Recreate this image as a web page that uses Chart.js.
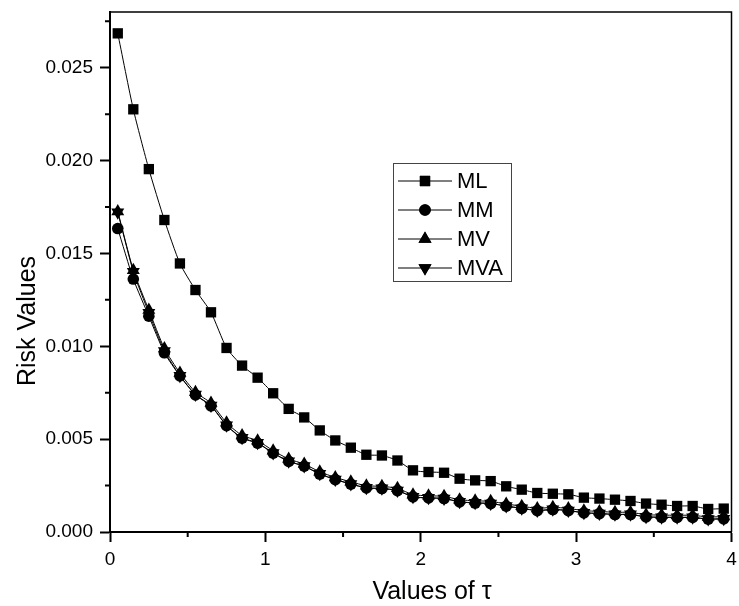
<!DOCTYPE html>
<html>
<head>
<meta charset="utf-8">
<script src="https://cdn.jsdelivr.net/npm/chart.js@4/dist/chart.umd.min.js"></script>
<style>
  html, body { margin: 0; padding: 0; background: #fff; }
  #wrap { width: 739px; height: 606px; }
</style>
</head>
<body>
<div id="wrap"><canvas id="riskChart" width="739" height="606"></canvas></div>
<script>
const taus = [0.05, 0.15, 0.25, 0.35, 0.45, 0.55, 0.65, 0.75, 0.85, 0.95,
  1.05, 1.15, 1.25, 1.35, 1.45, 1.55, 1.65, 1.75, 1.85, 1.95,
  2.05, 2.15, 2.25, 2.35, 2.45, 2.55, 2.65, 2.75, 2.85, 2.95,
  3.05, 3.15, 3.25, 3.35, 3.45, 3.55, 3.65, 3.75, 3.85, 3.95]

const ml = [0.02685, 0.02276, 0.01954, 0.01680, 0.01446, 0.01303, 0.01183, 0.00991, 0.00896, 0.00831,
  0.00747, 0.00663, 0.00617, 0.00547, 0.00493, 0.00454, 0.00416, 0.00412, 0.00385, 0.00332,
  0.00323, 0.00319, 0.00287, 0.00278, 0.00274, 0.00246, 0.00228, 0.00210, 0.00206, 0.00203,
  0.00185, 0.00180, 0.00174, 0.00167, 0.00153, 0.00147, 0.00140, 0.00140, 0.00124, 0.00126]

const mm = [0.01634, 0.01362, 0.01162, 0.00965, 0.00840, 0.00738, 0.00679, 0.00573, 0.00505, 0.00478,
  0.00424, 0.00380, 0.00354, 0.00312, 0.00282, 0.00258, 0.00237, 0.00234, 0.00223, 0.00189,
  0.00183, 0.00180, 0.00162, 0.00156, 0.00153, 0.00139, 0.00127, 0.00115, 0.00121, 0.00115,
  0.00103, 0.00099, 0.00094, 0.00094, 0.00081, 0.00079, 0.00078, 0.00078, 0.00069, 0.00071]

const mv = [0.01726, 0.01410, 0.01195, 0.00988, 0.00856, 0.00753, 0.00694, 0.00588, 0.00520, 0.00492,
  0.00438, 0.00393, 0.00366, 0.00324, 0.00294, 0.00270, 0.00249, 0.00246, 0.00235, 0.00201,
  0.00195, 0.00192, 0.00174, 0.00168, 0.00165, 0.00151, 0.00139, 0.00127, 0.00133, 0.00127,
  0.00115, 0.00111, 0.00106, 0.00106, 0.00093, 0.00091, 0.00090, 0.00090, 0.00081, 0.00083]

const mva = [0.01722, 0.01402, 0.01180, 0.00975, 0.00842, 0.00740, 0.00681, 0.00575, 0.00507, 0.00480,
  0.00426, 0.00381, 0.00355, 0.00313, 0.00283, 0.00259, 0.00238, 0.00235, 0.00224, 0.00190,
  0.00184, 0.00181, 0.00163, 0.00157, 0.00154, 0.00140, 0.00128, 0.00116, 0.00122, 0.00116,
  0.00104, 0.00100, 0.00095, 0.00095, 0.00082, 0.00080, 0.00079, 0.00079, 0.00070, 0.00072]

const xTicks = [0, 1, 2, 3, 4]
const yTicks = [0.000, 0.005, 0.010, 0.015, 0.020, 0.025]
const xMinor = [0.5, 1.5, 2.5, 3.5]
const yMinor = [0.0025, 0.0075, 0.0125, 0.0175, 0.0225, 0.0275]

const FONT = 'Arial, "Liberation Sans", Helvetica, sans-serif'

function series(label, values, style, radius, rotation) {
  return {
    label: label,
    data: taus.map((t, i) => ({ x: t, y: values[i] })),
    borderColor: '#000',
    borderWidth: 1,
    backgroundColor: '#000',
    pointStyle: style,
    pointRadius: radius,
    pointRotation: rotation || 0,
    pointBorderWidth: 0,
    pointBackgroundColor: '#000',
    tension: 0.2,
    clip: false
  }
}

const datasets = [
  series('ML', ml, 'rect', 7.3),
  series('MM', mm, 'circle', 5.8),
  series('MV', mv, 'triangle', 7.5),
  series('MVA', mva, 'triangle', 7.5, 180)
]

// frame, minor ticks, axis titles and the boxed legend
const decor = {
  id: 'decor',
  afterDraw(chart) {
    const ctx = chart.ctx
    const a = chart.chartArea
    const xs = chart.scales.x
    const ys = chart.scales.y
    ctx.save()
    ctx.strokeStyle = '#000'
    ctx.lineWidth = 1.5
    ctx.beginPath()
    ctx.moveTo(a.left, a.top)
    ctx.lineTo(a.right, a.top)
    ctx.lineTo(a.right, a.bottom)
    ctx.stroke()

    ctx.lineWidth = 2
    ctx.beginPath()
    xMinor.forEach(v => {
      const px = xs.getPixelForValue(v)
      ctx.moveTo(px, a.bottom)
      ctx.lineTo(px, a.bottom + 5)
    })
    yMinor.forEach(v => {
      const py = ys.getPixelForValue(v)
      ctx.moveTo(a.left, py)
      ctx.lineTo(a.left - 5, py)
    })
    ctx.stroke()

    ctx.fillStyle = '#000'
    ctx.font = '25px ' + FONT
    ctx.textAlign = 'center'
    ctx.textBaseline = 'middle'
    ctx.fillText('Values of \u03c4', 432, 592)
    ctx.save()
    ctx.translate(28, 321)
    ctx.rotate(-Math.PI / 2)
    ctx.fillText('Risk Values', 0, 0)
    ctx.restore()

    // legend box
    const box = { left: 393, top: 163, width: 118, height: 118 }
    ctx.lineWidth = 1
    ctx.strokeStyle = '#444'
    ctx.strokeRect(box.left + 0.5, box.top + 0.5, box.width, box.height)
    const rows = [181, 210, 239, 268]
    ctx.font = '22px ' + FONT
    ctx.textAlign = 'left'
    chart.data.datasets.forEach((ds, i) => {
      const y = rows[i]
      ctx.strokeStyle = '#000'
      ctx.lineWidth = 1
      ctx.beginPath()
      ctx.moveTo(398, y)
      ctx.lineTo(452, y)
      ctx.stroke()
      Chart.helpers.drawPoint(ctx, {
        pointStyle: ds.pointStyle,
        radius: ds.pointRadius,
        rotation: ds.pointRotation,
        borderWidth: 0
      }, 425, y)
      ctx.fillStyle = '#000'
      ctx.fill()
      ctx.fillText(ds.label, 457, y + 1)
    })
    ctx.restore()
  }
}

new Chart(document.getElementById('riskChart'), {
  type: 'line',
  data: { datasets: datasets },
  plugins: [decor],
  options: {
    responsive: false,
    animation: false,
    layout: { padding: { top: 12, right: -4, left: 0, bottom: 0 } },
    plugins: {
      legend: { display: false },
      tooltip: { enabled: false }
    },
    scales: {
      x: {
        type: 'linear',
        min: 0,
        max: 4,
        afterFit: s => { s.height = 74; s.paddingLeft = 0; s.paddingRight = 0 },
        afterBuildTicks: s => { s.ticks = xTicks.map(v => ({ value: v })) },
        grid: { drawOnChartArea: false, tickLength: 10, tickWidth: 2, tickColor: '#000' },
        border: { display: true, color: '#000', width: 2 },
        ticks: {
          color: '#000',
          padding: 6,
          maxRotation: 0,
          font: { size: 19, family: FONT },
          callback: v => String(v)
        }
      },
      y: {
        type: 'linear',
        min: 0,
        max: 0.028,
        afterFit: s => { s.width = 110; s.paddingTop = 0; s.paddingBottom = 0 },
        afterBuildTicks: s => { s.ticks = yTicks.map(v => ({ value: v })) },
        grid: { drawOnChartArea: false, tickLength: 10, tickWidth: 2, tickColor: '#000' },
        border: { display: true, color: '#000', width: 2 },
        ticks: {
          color: '#000',
          padding: 7,
          font: { size: 19, family: FONT },
          callback: v => v.toFixed(3)
        }
      }
    }
  }
})
</script>
</body>
</html>
